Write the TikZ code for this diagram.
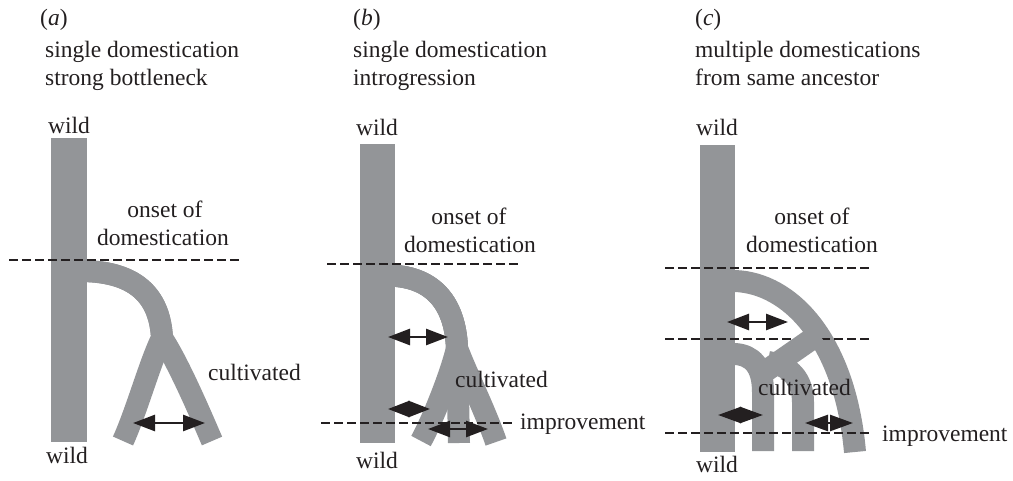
\documentclass[tikz,border=0pt]{standalone}
\usepackage{fontspec}
\setmainfont{Liberation Serif}
\usetikzlibrary{arrows.meta}
\definecolor{band}{RGB}{147,149,152}
\definecolor{ink}{RGB}{35,31,32}
\newcommand\labfont{\fontsize{23.5pt}{28pt}\selectfont}
\begin{document}
\begin{tikzpicture}[x=1pt,y=-1pt,
  lbl/.style={inner sep=0pt, font=\labfont, text=ink},
  trunk/.style={fill=band},
  branch/.style={draw=band, line width=22pt, line cap=butt, line join=round},
  cutline/.style={draw=ink, line width=1.3pt, dash pattern=on 8.5pt off 4.5pt},
  dbl/.style={draw=ink, line width=2.6pt, {Triangle[length=22pt,width=16pt]}-{Triangle[length=22pt,width=16pt]}},
  diam/.style={draw=ink, line width=2.6pt, {Triangle[length=#1,width=16pt]}-{Triangle[length=#1,width=16pt]}},
  halfhead/.style={draw=ink, line width=2.6pt, -{Triangle[length=#1,width=16pt]}}
]
\useasboundingbox (0,0) rectangle (1013,480);

% ---------- headers ----------
\node[lbl, anchor=base west] (ha)  at (40,25) {(\textit{a})};
\node[lbl, anchor=base west] (ha1) at (45,57) {single domestication};
\node[lbl, anchor=base west] (ha2) at (45,85) {strong bottleneck};
\node[lbl, anchor=base west] (hb)  at (353,25) {(\textit{b})};
\node[lbl, anchor=base west] (hb1) at (353,57) {single domestication};
\node[lbl, anchor=base west] (hb2) at (353,85) {introgression};
\node[lbl, anchor=base west] (hc)  at (695,25) {(\textit{c})};
\node[lbl, anchor=base west] (hc1) at (695,57) {multiple domestications};
\node[lbl, anchor=base west] (hc2) at (695,85) {from same ancestor};

% ---------- panel (a) ----------
\fill[trunk] (51,138) rectangle (87,442);
\draw[branch] (80,271) .. controls (140,271) and (160,300) .. (162,338)
  .. controls (150,362) and (137,410) .. (123,441);
\draw[branch] (80,271) .. controls (140,271) and (160,300) .. (162,338)
  .. controls (178,362) and (200,413) .. (212,441);
\draw[cutline] (9,260) -- (243,260);
\coordinate (a1l) at (133,423); \coordinate (a1r) at (205,423);
\draw[dbl] (a1l) -- (a1r);
\node[lbl, anchor=base] (wa1) at (69,133) {wild};
\node[lbl, anchor=base] (wa2) at (67,463) {wild};
\node[lbl, anchor=base] (oa1) at (165,217) {onset of};
\node[lbl, anchor=base] (oa2) at (163,245) {domestication};
\node[lbl, anchor=base west] (ca) at (208,380) {cultivated};

% ---------- panel (b) ----------
\fill[trunk] (360,144) rectangle (395,443);
\draw[branch] (388,275.5) .. controls (430,276) and (455,300) .. (457,348)
  .. controls (452,370) and (435,415) .. (421,441);
\draw[branch] (388,275.5) .. controls (430,276) and (455,300) .. (457,348)
  -- (459,443);
\draw[branch] (388,275.5) .. controls (430,276) and (455,300) .. (457,348)
  .. controls (465,370) and (485,410) .. (496,442);
\draw[cutline] (327,264) -- (520,264);
\draw[cutline] (321,423) -- (513,423);
\coordinate (b1l) at (388,337); \coordinate (b1r) at (448,337);
\draw[dbl] (b1l) -- (b1r);
\coordinate (b2l) at (388,409); \coordinate (b2m) at (409,409); \coordinate (b2r) at (430,409);
\draw[halfhead=21.6pt] ([xshift=2pt]b2m) -- (b2l);
\draw[halfhead=21.6pt] ([xshift=-2pt]b2m) -- (b2r);
\coordinate (b3l) at (428,429); \coordinate (b3r) at (488,429);
\draw[dbl] (b3l) -- (b3r);
\node[lbl, anchor=base] (wb1) at (377,135) {wild};
\node[lbl, anchor=base] (wb2) at (377,468) {wild};
\node[lbl, anchor=base] (ob1) at (469,224) {onset of};
\node[lbl, anchor=base] (ob2) at (470,252) {domestication};
\node[lbl, anchor=base west] (cb) at (455,387) {cultivated};
\node[lbl, anchor=base west] (ib) at (520,429) {improvement};

% ---------- panel (c) ----------
\fill[trunk] (700,145) rectangle (735,452);
\draw[branch] (728,281) -- (735,281) .. controls (790,283) and (845,340) .. (855,452);
\draw[branch] (728,354) -- (735,354) .. controls (752,355) and (763,366) .. (763,392) -- (763,451);
\draw[branch] (768,362) .. controls (790,365) and (803,380) .. (803,402) -- (803,451);
\draw[cutline] (665,268) -- (872,268);
\draw[cutline] (665,339) -- (872,339);
\draw[cutline] (665,433) -- (872,433);
\draw[branch] (760,375) -- (819,334);
\coordinate (c1l) at (727,322); \coordinate (c1r) at (788,322);
\draw[dbl] (c1l) -- (c1r);
\coordinate (c2l) at (718,415); \coordinate (c2m) at (740.5,415); \coordinate (c2r) at (763,415);
\draw[halfhead=23.1pt] ([xshift=2pt]c2m) -- (c2l);
\draw[halfhead=23.1pt] ([xshift=-2pt]c2m) -- (c2r);
\coordinate (c3l) at (805,423); \coordinate (c3r) at (853,423);
\draw[diam=23pt] (c3l) -- (c3r);
\node[lbl, anchor=base] (wc1) at (717,135) {wild};
\node[lbl, anchor=base] (wc2) at (717,472) {wild};
\node[lbl, anchor=base] (oc1) at (812,224) {onset of};
\node[lbl, anchor=base] (oc2) at (812,252) {domestication};
\node[lbl, anchor=base west] (cc) at (758,395) {cultivated};
\node[lbl, anchor=base west] (ic) at (882,441) {improvement};
\end{tikzpicture}
\end{document}
